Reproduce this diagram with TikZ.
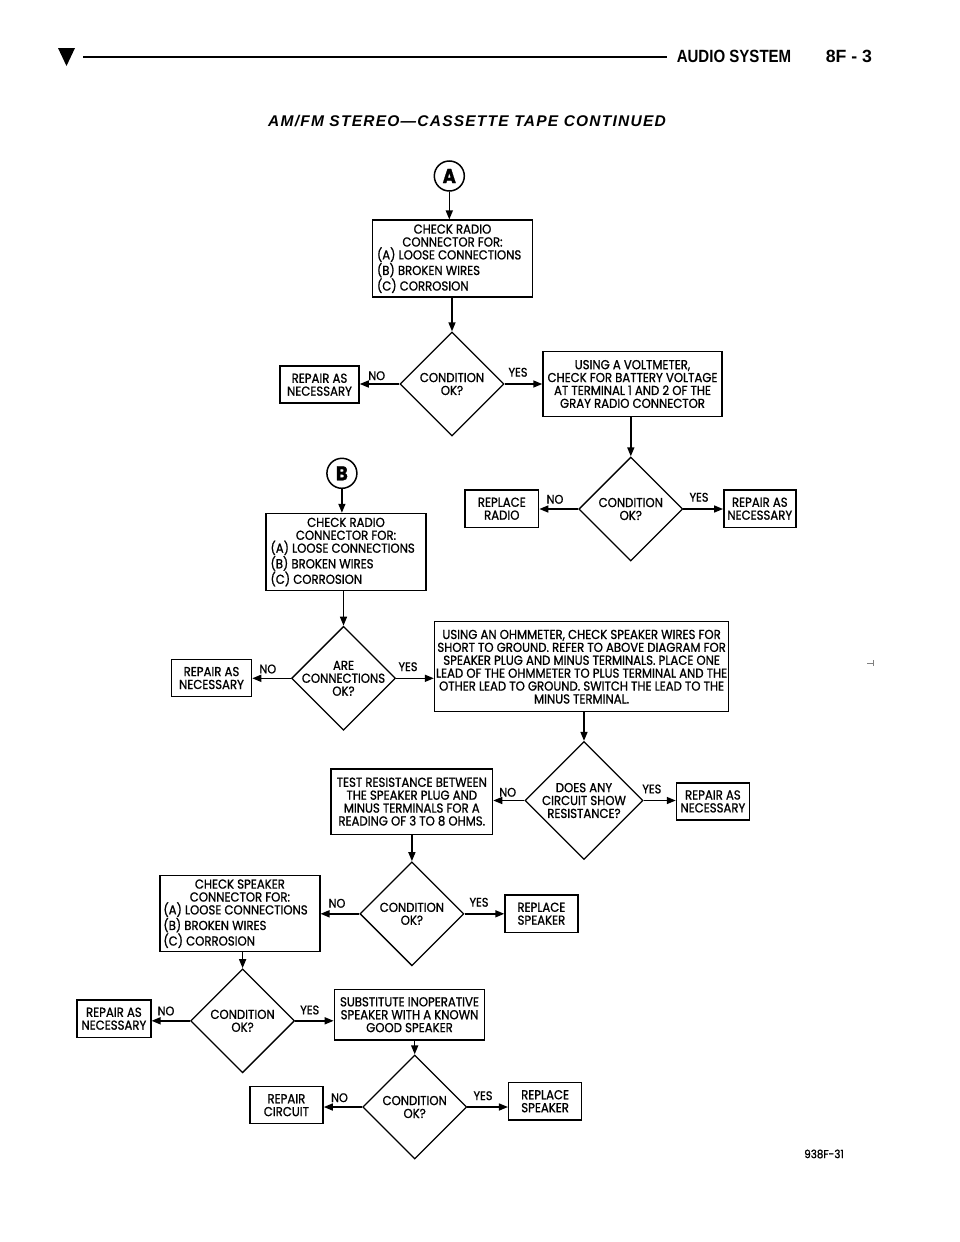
\documentclass[tikz,border=0pt]{standalone}
\usepackage{fontspec}
\setmainfont{Poppins}[FakeStretch=0.9,FakeBold=1]
\newfontfamily\headfont{Liberation Sans}[FakeStretch=0.85]
\newfontfamily\pagefont{Liberation Sans}
\newfontfamily\titlefont{Liberation Sans}[LetterSpace=8]
\usepackage{tikz}
\usetikzlibrary{shapes.geometric}
\usetikzlibrary{arrows.meta}

\begin{document}
\begin{tikzpicture}[x=1pt,y=-1pt,line width=1.5pt]

	\tikzstyle{box} = [draw,inner sep=0pt,align=center,font=\fontsize{13}{12.9}\selectfont]
	\tikzstyle{check} = [box,align=left,minimum width=160pt,minimum height=77pt]
	\tikzstyle{decision} = [draw,diamond,minimum width=104pt,minimum height=104pt,inner sep=0pt,line width=1.3pt]
	\tikzstyle{dtext} = [align=center,inner sep=0pt,font=\fontsize{13}{12.9}\selectfont]
	\tikzstyle{answer} = [inner sep=0pt,font=\fontsize{12.5}{12.5}\selectfont]
	\tikzstyle{letter} = [draw,circle,minimum size=30pt,inner sep=0pt,font=\bfseries\fontsize{20}{20}\selectfont]
	\tikzstyle{arrow} = [-{Triangle[length=9pt,width=7pt]}]

	\useasboundingbox (0,0) rectangle (960,1242);

	% page header
	\fill (58,48) -- (75,48) -- (66.5,66) -- cycle;
	\draw[line width=2pt] (83,57.3) -- (667,57.3);
	\node[anchor=base west,inner sep=0pt,font=\headfont\bfseries\fontsize{17.7}{17.7}\selectfont] (hdr) at (676,62.7) {AUDIO SYSTEM};
	\node[anchor=base west,inner sep=0pt,font=\pagefont\bfseries\fontsize{17.7}{17.7}\selectfont] (page) at (825,62.7) {8F - 3};
	\node[anchor=base,inner sep=0pt,font=\titlefont\bfseries\itshape\fontsize{15.5}{15.5}\selectfont] (title) at (467,126.7) {AM/FM STEREO—CASSETTE TAPE CONTINUED};

	% branch A
	\node[letter] (A) at (449.3,176) {A};
	\node[check] (radioA) at (452.5,258.7) {\makebox[151pt]{CHECK RADIO}\\\makebox[151pt]{CONNECTOR FOR:}\\(A) LOOSE CONNECTIONS\\(B) BROKEN WIRES\\(C) CORROSION};
	\node[decision,label={[dtext]center:{CONDITION\\OK?}}] (condA) at (452,384) {};
	\node[box,minimum width=79pt,minimum height=37pt] (repA) at (319.5,384.7) {REPAIR AS\\NECESSARY};
	\node[box,minimum width=179pt,minimum height=65pt] (volt) at (632.5,384) {USING A VOLTMETER,\\CHECK FOR BATTERY VOLTAGE\\AT TERMINAL 1 AND 2 OF THE\\GRAY RADIO CONNECTOR};
	\node[answer] (noA) at (376.7,375.7) {NO};
	\node[answer] (yesA) at (518,372.3) {YES};

	\draw[arrow] (A) -- (A |- radioA.north);
	\draw[arrow] (condA.north |- radioA.south) -- (condA.north);
	\draw[arrow] (condA.west) -- (condA.west -| repA.east);
	\draw[arrow] (condA.east) -- (condA.east -| volt.west);

	\node[decision,label={[dtext]center:{CONDITION\\OK?}}] (condV) at (630.8,509) {};
	\node[box,minimum width=73.6pt,minimum height=37.3pt] (radio) at (501.8,508.7) {REPLACE\\RADIO};
	\node[box,minimum width=72pt,minimum height=37.3pt] (repV) at (759.8,508.7) {REPAIR AS\\NECESSARY};
	\node[answer] (noV) at (555,499.3) {NO};
	\node[answer] (yesV) at (699,497.3) {YES};

	\draw[arrow] (condV.north |- volt.south) -- (condV.north);
	\draw[arrow] (condV.west) -- (condV.west -| radio.east);
	\draw[arrow] (condV.east) -- (condV.east -| repV.west);

	% branch B
	\node[letter] (B) at (341.9,473.3) {B};
	\node[check] (radioB) at (346,552) {\makebox[151pt]{CHECK RADIO}\\\makebox[151pt]{CONNECTOR FOR:}\\(A) LOOSE CONNECTIONS\\(B) BROKEN WIRES\\(C) CORROSION};
	\node[decision,label={[dtext]center:{ARE\\CONNECTIONS\\OK?}}] (condB) at (343.5,678.3) {};
	\node[box,minimum width=80pt,minimum height=37.4pt] (repB) at (211.5,678) {REPAIR AS\\NECESSARY};
	\node[box,minimum width=294pt,minimum height=90pt] (ohm) at (581.6,666.7) {USING AN OHMMETER, CHECK SPEAKER WIRES FOR\\SHORT TO GROUND. REFER TO ABOVE DIAGRAM FOR\\SPEAKER PLUG AND MINUS TERMINALS. PLACE ONE\\LEAD OF THE OHMMETER TO PLUS TERMINAL AND THE\\OTHER LEAD TO GROUND. SWITCH THE LEAD TO THE\\MINUS TERMINAL.};
	\node[answer] (noB) at (267.8,669) {NO};
	\node[answer] (yesB) at (408,666.7) {YES};

	\draw[arrow] (B) -- (B |- radioB.north);
	\draw[arrow] (condB.north |- radioB.south) -- (condB.north);
	\draw[arrow] (condB.west) -- (condB.west -| repB.east);
	\draw[arrow] (condB.east) -- (condB.east -| ohm.west);

	\node[decision,minimum width=118pt,minimum height=118pt,label={[dtext]center:{DOES ANY\\CIRCUIT SHOW\\RESISTANCE?}}] (short) at (584,800.5) {};
	\node[box,minimum width=161.5pt,minimum height=65.3pt] (test) at (411.8,801.7) {TEST RESISTANCE BETWEEN\\THE SPEAKER PLUG AND\\MINUS TERMINALS FOR A\\READING OF 3 TO 8 OHMS.};
	\node[box,minimum width=72.8pt,minimum height=37.3pt] (repS) at (712.9,801.4) {REPAIR AS\\NECESSARY};
	\node[answer] (noS) at (507.7,792.3) {NO};
	\node[answer] (yesS) at (651.8,789) {YES};

	\draw[arrow] (short.north |- ohm.south) -- (short.north);
	\draw[arrow] (short.west) -- (short.west -| test.east);
	\draw[arrow] (short.east) -- (short.east -| repS.west);

	\node[decision,label={[dtext]center:{CONDITION\\OK?}}] (condT) at (411.9,913.8) {};
	\node[check,minimum width=159.7pt,minimum height=76pt] (spk) at (239.9,913.7) {\makebox[153pt]{CHECK SPEAKER}\\\makebox[153pt]{CONNECTOR FOR:}\\(A) LOOSE CONNECTIONS\\(B) BROKEN WIRES\\(C) CORROSION};
	\node[box,minimum width=72.7pt,minimum height=37.3pt] (newT) at (541.4,913.7) {REPLACE\\SPEAKER};
	\node[answer] (noT) at (337,903.3) {NO};
	\node[answer] (yesT) at (479,902.3) {YES};

	\draw[arrow] (condT.north |- test.south) -- (condT.north);
	\draw[arrow] (condT.west) -- (condT.west -| spk.east);
	\draw[arrow] (condT.east) -- (condT.east -| newT.west);

	\node[decision,label={[dtext]center:{CONDITION\\OK?}}] (condC) at (242.6,1020.8) {};
	\node[box,minimum width=73.8pt,minimum height=37.3pt] (repC) at (113.9,1018.7) {REPAIR AS\\NECESSARY};
	\node[box,minimum width=150.2pt,minimum height=50.7pt] (subst) at (409.5,1014.7) {SUBSTITUTE INOPERATIVE\\SPEAKER WITH A KNOWN\\GOOD SPEAKER};
	\node[answer] (noC) at (166,1011) {NO};
	\node[answer] (yesC) at (309.7,1010) {YES};

	\draw[arrow] (condC.north |- spk.south) -- (condC.north);
	\draw[arrow] (condC.west) -- (condC.west -| repC.east);
	\draw[arrow] (condC.east) -- (condC.east -| subst.west);

	\node[decision,label={[dtext]center:{CONDITION\\OK?}}] (condK) at (414.7,1107) {};
	\node[box,minimum width=73.3pt,minimum height=37pt] (circuit) at (286.4,1105.2) {REPAIR\\CIRCUIT};
	\node[box,minimum width=72.8pt,minimum height=37.7pt] (newK) at (545.1,1101.2) {REPLACE\\SPEAKER};
	\node[answer] (noK) at (339.5,1097.7) {NO};
	\node[answer] (yesK) at (483,1095.7) {YES};

	\draw[arrow] (condK.north |- subst.south) -- (condK.north);
	\draw[arrow] (condK.west) -- (condK.west -| circuit.east);
	\draw[arrow] (condK.east) -- (condK.east -| newK.west);

	\node[inner sep=0pt,font=\fontsize{11.5}{11.5}\selectfont] (fig) at (824,1154) {938F-31};
	\draw[gray,line width=0.8pt] (867,663) -- (873,663) (873,660) -- (873,666);

\end{tikzpicture}
\end{document}
